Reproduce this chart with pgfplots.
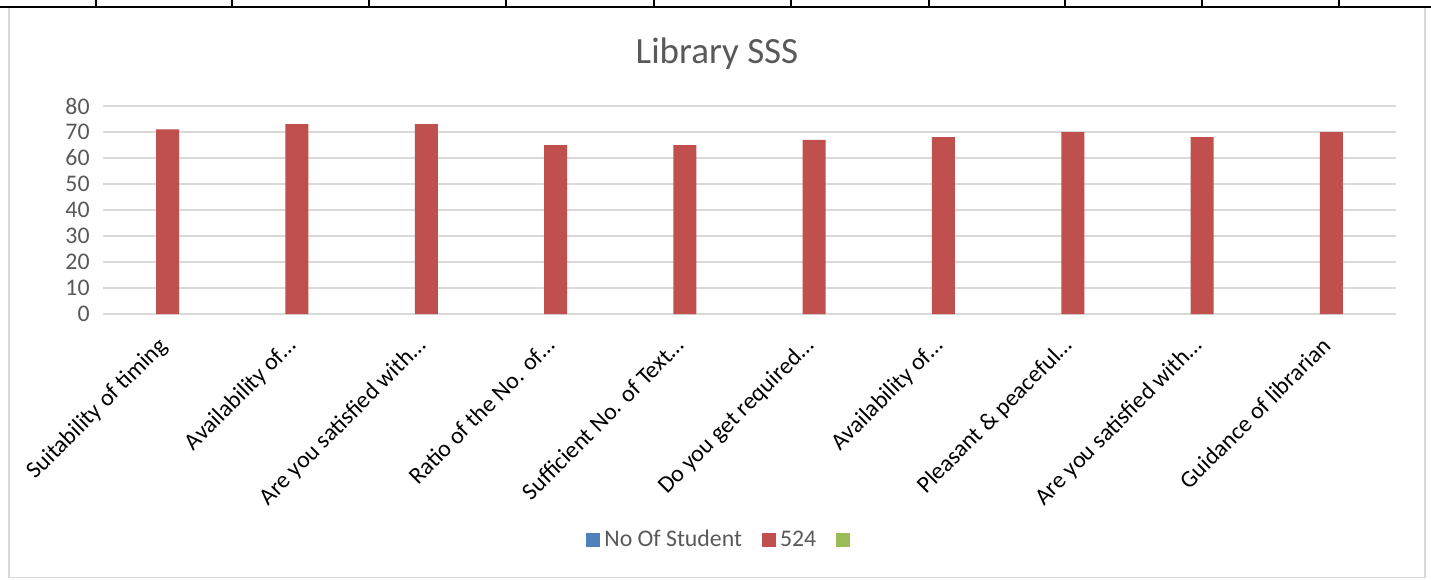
\documentclass[border=0pt]{standalone}
\usepackage{fontspec}
\setmainfont{Carlito}
\usepackage{pgfplots}
\pgfplotsset{compat=1.18}

\definecolor{sblue}{HTML}{4F81BD}
\definecolor{sred}{HTML}{C0504D}
\definecolor{sgreen}{HTML}{9BBB59}
\definecolor{txtgray}{HTML}{595959}
\definecolor{gridgray}{HTML}{D9D9D9}

\begin{document}
\begin{tikzpicture}
  % page frame (1 px of the reference = 0.5pt)
  \fill[white] (0,0) rectangle (715.5pt,-289.5pt);
  \useasboundingbox (0,0) rectangle (715.5pt,-289.5pt);
  \draw[gridgray, line width=0.75pt] (4.5pt,-3.5pt) rectangle (712.5pt,-288.75pt);

  % table rule above the chart
  \draw[black, line width=1.35pt] (0,-3.5pt) -- (715.5pt,-3.5pt);
  \foreach \tx in {48,116,184.5,253,327,395.5,464.5,532.5,601,669.5}
    \draw[black, line width=1.25pt] (\tx pt,0) -- (\tx pt,-3.5pt);

  \node[anchor=base, font=\fontsize{18.5}{22}\selectfont, text=txtgray]
    at (358.5pt,-31.65pt) {Library SSS};

  \begin{axis}[
    at={(51.5pt,-157pt)}, anchor=south west,
    scale only axis,
    width=646.5pt, height=104pt,
    xmin=-0.5, xmax=9.5,
    ymin=0, ymax=80,
    xtick={0,...,9},
    ytick={0,10,...,80},
    xticklabels={
      {Suitability of timing},
      {Availability of…},
      {Are you satisfied with…},
      {Ratio of the No. of…},
      {Sufficient No. of Text…},
      {Do you get required…},
      {Availability of…},
      {Pleasant \& peaceful…},
      {Are you satisfied with…},
      {Guidance of librarian}},
    axis line style={draw=none},
    major tick length=0pt,
    ymajorgrids,
    grid style={gridgray, line width=0.75pt},
    /pgf/number format/assume math mode=true,
    yticklabel style={font=\fontsize{11.9}{14}\selectfont, text=txtgray,
      anchor=east, inner sep=0pt, xshift=-6.5pt},
    xticklabel style={font=\fontsize{11.9}{14}\selectfont, text=black,
      inner sep=0pt, anchor=base east, xshift=0.5pt, yshift=-16.5pt, rotate=45},
    legend columns=-1,
    legend style={draw=none, fill=none, font=\fontsize{11.9}{14}\selectfont,
      text=txtgray, at={(axis description cs:0.479,-1.0865)}, anchor=center,
      /tikz/every even column/.append style={column sep=8pt}},
    legend image code/.code={\fill[#1] (0pt,-3.4pt) rectangle (7pt,3.4pt);},
  ]
    \addlegendimage{fill=sblue, draw=none}
    \addlegendentry{No Of Student}
    \addplot[ybar, bar width=11.5pt, bar shift=0pt, fill=sred, draw=none]
      coordinates {
        (0,71) (1,73) (2,73) (3,65) (4,65)
        (5,67) (6,68) (7,70) (8,68) (9,70)
      };
    \addlegendentry{524}
    \addlegendimage{fill=sgreen, draw=none}
    \addlegendentry{}
  \end{axis}
\end{tikzpicture}
\end{document}
